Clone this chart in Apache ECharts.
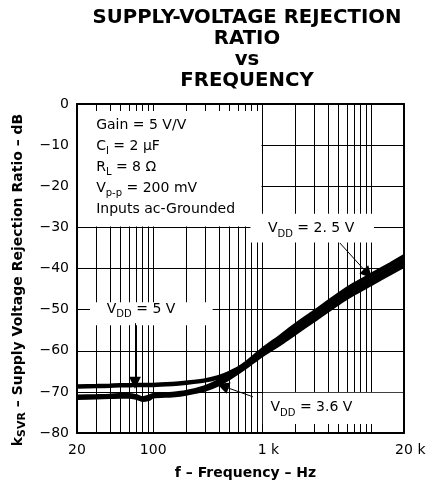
<!DOCTYPE html>
<html><head><meta charset="utf-8">
<script src="https://cdn.jsdelivr.net/npm/echarts@6/dist/echarts.min.js"></script>
<style>html,body{margin:0;padding:0;background:#fff}#c{width:430px;height:487px}</style>
</head><body><div id="c"></div>
<script>
// ---- data ----
const freqHz   = [20, 30, 40, 50, 60, 70, 80, 90, 100, 150, 200, 300, 400, 500, 700, 1000, 1500, 2000, 3000, 5000, 7000, 10000, 15000, 20000];
const ksvrVdd5  = [-68.7, -68.6, -68.5, -68.4, -68.4, -68.3, -68.3, -68.3, -68.3, -68.1, -67.8, -67.2, -66.4, -65.4, -63.4, -60.5, -57.3, -54.9, -51.6, -47.4, -45.0, -42.7, -40.1, -38.2];
const ksvrVdd25 = [-71.2, -71.1, -71.0, -70.8, -70.8, -71.1, -71.6, -71.3, -70.8, -70.5, -70.1, -68.9, -67.4, -65.9, -63.2, -59.8, -56.4, -53.9, -50.6, -46.4, -43.9, -41.6, -39.0, -37.1];
const ksvrVdd36 = [-71.4, -71.3, -71.2, -71.1, -71.1, -71.4, -71.9, -71.7, -71.1, -70.8, -70.4, -69.4, -68.1, -66.6, -64.0, -61.0, -58.0, -55.7, -52.5, -48.4, -46.0, -43.7, -41.1, -39.3];
const xTickLabels = {20: '20', 100: '100', 1000: '{p|}1 k', 20000: '{p|}20 k'};
const yMin = -80, yMax = 0, yStep = 10;
const xMin = 20, xMax = 20000;

const FONT = 'DejaVu Sans';
const BLACK = '#000';
const pairs = ys => freqHz.map((f, i) => [f, ys[i]]);

const richText = {
  m: {fontFamily: FONT, fontSize: 14, lineHeight: 21, color: BLACK},
  s: {fontFamily: FONT, fontSize: 10, lineHeight: 12, verticalAlign: 'bottom', color: BLACK}
};

const chart = echarts.init(document.getElementById('c'), null, {renderer: 'canvas'});

const baseX = {type: 'log', logBase: 10, min: xMin, max: xMax, gridIndex: 0};
const baseY = {type: 'value', min: yMin, max: yMax, interval: yStep, gridIndex: 0};
const noShow = {show: false};

const curve = (name, ys) => ({
  name, type: 'line', data: pairs(ys), symbol: 'none', showSymbol: false,
  smooth: 0.3, silent: true, z: 3,
  lineStyle: {color: BLACK, width: 4.5}
});

chart.setOption({
  animation: false,
  backgroundColor: '#fff',
  title: {
    text: 'SUPPLY-VOLTAGE REJECTION\nRATIO\nvs\nFREQUENCY',
    left: 247, top: 8, textAlign: 'center', padding: 0,
    textStyle: {fontFamily: FONT, fontSize: 19.7, fontWeight: 'bold', lineHeight: 20.7, color: BLACK}
  },
  grid: {left: 77, right: 26, top: 104, bottom: 54, containLabel: false, outerBoundsMode: 'none'},
  xAxis: [
    Object.assign({}, baseX, {
      position: 'bottom', z: 0,
      axisLine: {show: false, onZero: false}, axisTick: noShow, axisLabel: noShow,
      splitLine: {show: true, lineStyle: {color: BLACK, width: 1}},
      minorTick: {show: false, splitNumber: 9},
      minorSplitLine: {show: true, lineStyle: {color: BLACK, width: 1}}
    }),
    Object.assign({}, baseX, {
      position: 'bottom', z: 10,
      axisLine: {show: true, onZero: false, lineStyle: {color: BLACK, width: 2}},
      axisTick: {show: true, inside: true, length: 9, lineStyle: {color: BLACK, width: 1}},
      minorTick: {show: true, splitNumber: 9, length: 9, lineStyle: {color: BLACK, width: 1}},
      splitLine: noShow,
      axisLabel: {
        show: true, interval: 0, showMinLabel: true, showMaxLabel: true, margin: 10,
        fontFamily: FONT, fontSize: 14, color: BLACK,
        formatter: v => xTickLabels[Math.round(v)] || '',
        rich: {p: {width: 12.6}}
      }
    }),
    Object.assign({}, baseX, {
      position: 'top', z: 10,
      axisLine: {show: true, onZero: false, lineStyle: {color: BLACK, width: 2}},
      axisTick: {show: true, inside: true, length: 7, lineStyle: {color: BLACK, width: 1}},
      minorTick: {show: true, splitNumber: 9, length: 7, lineStyle: {color: BLACK, width: 1}},
      splitLine: noShow, axisLabel: noShow
    })
  ],
  yAxis: [
    Object.assign({}, baseY, {
      position: 'left', z: 0,
      axisLine: {show: false, onZero: false}, axisTick: noShow, axisLabel: noShow,
      splitLine: {show: true, lineStyle: {color: BLACK, width: 1}}
    }),
    Object.assign({}, baseY, {
      position: 'left', z: 10,
      axisLine: {show: true, onZero: false, lineStyle: {color: BLACK, width: 2}},
      axisTick: noShow, splitLine: noShow,
      axisLabel: {show: true, margin: 8, fontFamily: FONT, fontSize: 14, color: BLACK,
        formatter: v => v < 0 ? '\u2212' + Math.abs(v) : String(v)}
    }),
    Object.assign({}, baseY, {
      position: 'right', z: 10,
      axisLine: {show: true, onZero: false, lineStyle: {color: BLACK, width: 2}},
      axisTick: noShow, splitLine: noShow, axisLabel: noShow
    })
  ],
  series: [
    curve('VDD = 5 V', ksvrVdd5),
    curve('VDD = 2.5 V', ksvrVdd25),
    curve('VDD = 3.6 V', ksvrVdd36),
    {
      name: 'annotations', type: 'line', data: [], silent: true,
      markArea: {
        silent: true, z: 1,
        itemStyle: {color: '#fff', borderWidth: 0},
        label: {show: false},
        emphasis: {disabled: true},
        data: [
          [{coord: [20, -29.8]}, {coord: [985, 0]}],
          [{coord: [780, -26.7]}, {coord: [10600, -33.7]}],
          [{coord: [26.3, -48.2]}, {coord: [351, -53.8]}],
          [{coord: [1015, -80]}, {coord: [20000, -70.2]}]
        ]
      },
      markLine: {
        silent: true, z: 6,
        symbol: ['none', 'triangle'], symbolSize: 12,
        label: {show: false},
        emphasis: {disabled: true},
        lineStyle: {color: BLACK, width: 1, type: 'solid'},
        data: [
          [{coord: [68, -53.3]}, {coord: [68, -67.8]}],
          [{coord: [5160, -33.8]}, {coord: [9320, -41.3]}],
          [{coord: [822, -71.2]}, {coord: [436, -68.6]}]
        ]
      },
      markPoint: {
        silent: true, z: 6,
        symbol: 'circle', symbolSize: 1,
        itemStyle: {color: 'rgba(0,0,0,0)'},
        label: {show: true, position: 'inside', color: BLACK, rich: richText},
        emphasis: {disabled: true},
        data: [
          {coord: [30, -15.3], label: {align: 'left',
            formatter: '{m|Gain = 5 V/V}\n{m|C}{s|I}{m| = 2 \u00b5F}\n{m|R}{s|L}{m| = 8 \u03a9}\n{m|V}{s|p-p}{m| = 200 mV}\n{m|Inputs ac-Grounded}'}},
          {coord: [77.4, -49.85], label: {formatter: '{m|V}{s|DD}{m| = 5 V}'}},
          {coord: [2808, -30.27], label: {formatter: '{m|V}{s|DD}{m| = 2. 5 V}'}},
          {coord: [2830, -73.8], label: {formatter: '{m|V}{s|DD}{m| = 3.6 V}'}}
        ]
      }
    }
  ],
  graphic: [
    {type: 'text', x: 245.5, y: 473, silent: true,
      style: {text: 'f \u2013 Frequency \u2013 Hz', font: 'bold 14px "DejaVu Sans"', fill: BLACK, align: 'center', verticalAlign: 'middle'}},
    {type: 'text', x: 18, y: 280, rotation: Math.PI / 2, silent: true,
      style: {text: '{k|k}{s|SVR}{k| \u2013 Supply Voltage Rejection Ratio \u2013 dB}', align: 'center', verticalAlign: 'middle',
        rich: {
          k: {fontFamily: FONT, fontSize: 14, fontWeight: 'bold', lineHeight: 20, fill: BLACK, color: BLACK},
          s: {fontFamily: FONT, fontSize: 11, fontWeight: 'bold', lineHeight: 12, verticalAlign: 'bottom', fill: BLACK, color: BLACK}
        }}}
  ]
});
</script></body></html>
